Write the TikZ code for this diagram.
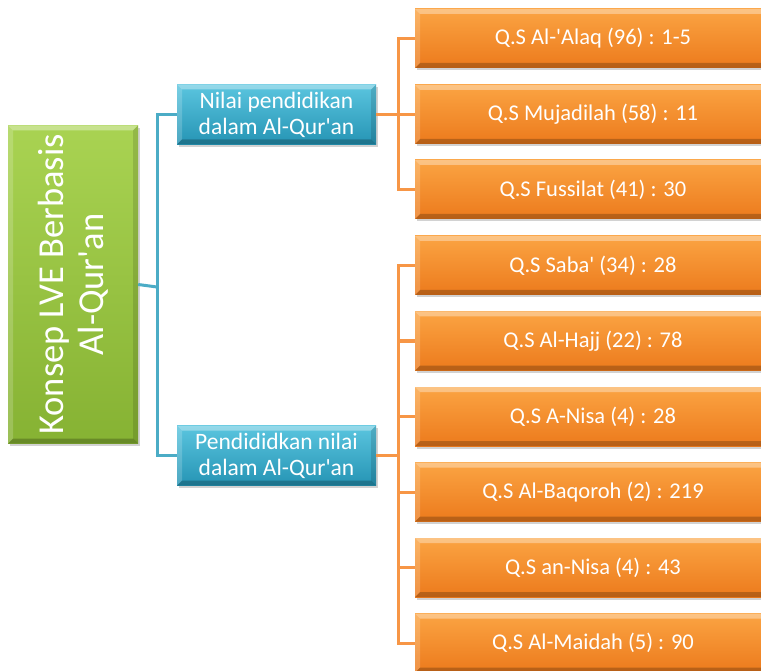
\documentclass[tikz,border=0pt]{standalone}
\usepackage{fontspec}
\setmainfont{Carlito}
\usetikzlibrary{shadows}
\definecolor{orTop}{HTML}{FBA443}
\definecolor{orBot}{HTML}{EC7A1C}
\definecolor{orLine}{HTML}{F79646}
\definecolor{blTop}{HTML}{5BC5DF}
\definecolor{blBot}{HTML}{2594B4}
\definecolor{blLine}{HTML}{4BACC6}
\definecolor{grTop}{HTML}{A9D352}
\definecolor{grBot}{HTML}{86B233}
\newcommand\sq{\textquotesingle}
\tikzset{
  bevel/.style={path picture={
    \path (path picture bounding box.north west) coordinate (pNW)
          (path picture bounding box.north east) coordinate (pNE)
          (path picture bounding box.south west) coordinate (pSW)
          (path picture bounding box.south east) coordinate (pSE);
    \fill[white,opacity=.35] (pNW) -- (pNE) -- ([shift={(-5pt,-5pt)}]pNE) -- ([shift={(5pt,-5pt)}]pNW) -- cycle;
    \fill[white,opacity=.18] (pNW) -- ([shift={(5pt,-5pt)}]pNW) -- ([shift={(5pt,5pt)}]pSW) -- (pSW) -- cycle;
    \fill[black,opacity=.22] (pSW) -- ([shift={(5pt,5pt)}]pSW) -- ([shift={(-5pt,5pt)}]pSE) -- (pSE) -- cycle;
    \fill[black,opacity=.12] (pNE) -- (pSE) -- ([shift={(-5pt,5pt)}]pSE) -- ([shift={(-5pt,-5pt)}]pNE) -- cycle;
  }},
  boxbase/.style={inner sep=0pt, text=white, bevel,
    drop shadow={shadow xshift=1.5pt, shadow yshift=-2.5pt, opacity=.35}},
  orbox/.style={boxbase, top color=orTop, bottom color=orBot,
    minimum width=356pt, minimum height=59pt,
    font=\fontsize{22.5}{27}\selectfont},
  blbox/.style={boxbase, top color=blTop, bottom color=blBot,
    minimum width=199pt, minimum height=60pt, align=center,
    font=\fontsize{23.5}{26}\selectfont},
  grbox/.style={boxbase, top color=grTop, bottom color=grBot,
    minimum width=130pt, minimum height=318pt},
  grtext/.style={rotate=90, align=center, text=white,
    font=\fontsize{36.5}{40}\selectfont},
  blline/.style={draw=blLine, line width=3pt},
  orline/.style={draw=orLine, line width=3pt},
}
\begin{document}
\begin{tikzpicture}[x=1pt,y=-1pt]
\useasboundingbox (0,0) rectangle (761,671);
\fill[white] (0,0) rectangle (761,671);

\coordinate (bj) at (157,287);
\coordinate (oj1) at (398,114.5);
\coordinate (oj2) at (398,455.5);

% root
\node[grbox] (root) at (73,284.5) {};
\node[grtext] (roottext) at (root) {Konsep LVE Berbasis\\Al-Qur\sq an};

% level 1
\node[blbox] (b1) at (276.5,114.5) {Nilai pendidikan\\dalam Al-Qur\sq an};
\node[blbox] (b2) at (276.5,455.5) {Pendididkan nilai\\dalam Al-Qur\sq an};

% level 2
\node[orbox] (o1) at (593,38.5) {Q.S Al-\sq Alaq (96) : 1-5};
\node[orbox] (o2) at (593,114.5) {Q.S Mujadilah (58) : 11};
\node[orbox] (o3) at (593,189.5) {Q.S Fussilat (41) : 30};
\node[orbox] (o4) at (593,265.5) {Q.S Saba\sq{} (34) : 28};
\node[orbox] (o5) at (593,341) {Q.S Al-Hajj (22) : 78};
\node[orbox] (o6) at (593,416.5) {Q.S A-Nisa (4) : 28};
\node[orbox] (o7) at (593,492) {Q.S Al-Baqoroh (2) : 219};
\node[orbox] (o8) at (593,567.5) {Q.S an-Nisa (4) : 43};
\node[orbox] (o9) at (593,643) {Q.S Al-Maidah (5) : 90};

% blue connectors
\draw[blline] (root.east) -- (bj);
\draw[blline] (b1.west) -| (bj) |- (b2.west);

% orange connectors group 1
\draw[orline] (b1.east) -- (oj1);
\draw[orline] (o1.west) -| (oj1) |- (o3.west);
\draw[orline] (oj1) -- (o2.west);

% orange connectors group 2
\draw[orline] (b2.east) -- (oj2);
\draw[orline] (o4.west) -| (oj2) |- (o9.west);
\draw[orline] (oj2 |- o5.west) -- (o5.west);
\draw[orline] (oj2 |- o6.west) -- (o6.west);
\draw[orline] (oj2 |- o7.west) -- (o7.west);
\draw[orline] (oj2 |- o8.west) -- (o8.west);
\end{tikzpicture}
\end{document}
